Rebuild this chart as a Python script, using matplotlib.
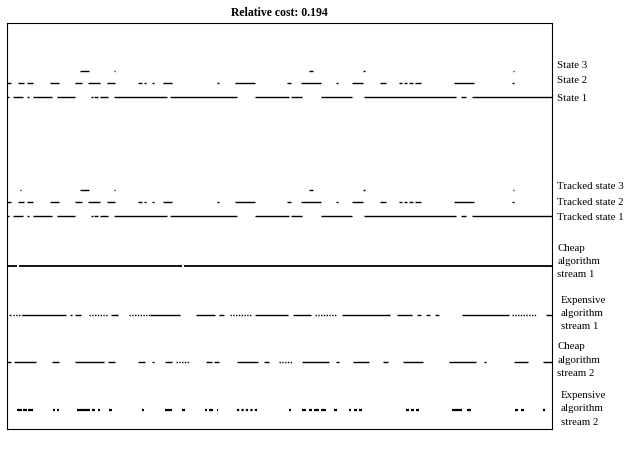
import numpy as np
import matplotlib.pyplot as plt

plt.rcParams['font.family'] = ['Liberation Serif', 'DejaVu Serif']

# runs of (start, stop) time steps
state1 = [(0, 2), (6, 16), (20, 22), (26, 45), (50, 68), (84, 86), (87, 91), (93, 101),
          (107, 160), (163, 230), (248, 283), (285, 296), (315, 346), (358, 450),
          (455, 460), (466, 546)]
state2 = [(0, 4), (11, 17), (20, 26), (43, 52), (68, 75), (81, 93), (100, 108), (131, 135),
          (137, 139), (145, 147), (156, 165), (210, 212), (228, 248), (281, 285), (295, 315),
          (330, 332), (346, 357), (374, 380), (393, 396), (398, 401), (403, 407), (409, 415),
          (448, 468), (506, 508)]
state3 = [(73, 82), (107, 108), (303, 307), (357, 359), (507, 508)]

tracked1 = list(state1)
tracked2 = list(state2)
tracked3 = [(13, 14)] + state3

cheap1 = [(0, 10), (12, 175), (177, 546)]

exp1 = [(2, 4), (15, 59), (63, 65), (68, 74), (104, 111), (143, 173), (189, 208), (212, 217),
        (248, 282), (287, 305), (336, 384), (391, 406), (411, 415), (420, 424), (429, 433),
        (456, 503), (540, 546)]
exp1_dotted = [(6, 15), (82, 101), (122, 143), (223, 244), (309, 330), (506, 531)]

cheap2 = [(0, 4), (7, 29), (45, 52), (68, 97), (101, 108), (131, 138), (145, 147), (158, 165),
          (199, 205), (207, 212), (230, 251), (257, 262), (296, 323), (330, 333), (347, 363),
          (377, 382), (397, 417), (443, 470), (478, 480), (508, 522), (537, 546)]
cheap2_dotted = [(169, 183), (272, 286)]

exp2 = [(10, 15), (16, 20), (21, 26), (46, 48), (50, 52), (70, 83), (85, 88), (91, 93),
        (102, 105), (135, 137), (158, 165), (175, 178), (198, 200), (202, 206), (210, 211),
        (283, 285), (296, 300), (303, 306), (308, 313), (315, 320), (328, 331), (343, 345),
        (348, 351), (353, 356), (400, 403), (405, 408), (410, 413), (446, 456), (461, 465),
        (509, 512), (515, 518), (537, 539)]
exp2_dotted = [(230, 250)]

n_steps = 546
labels = ['State 3', 'State 2', 'State 1',
          'Tracked state 3', 'Tracked state 2', 'Tracked state 1',
          'Cheap\nalgorithm\nstream 1', 'Expensive\nalgorithm\nstream 1',
          'Cheap\nalgorithm\nstream 2', 'Expensive\nalgorithm\nstream 2']

fig = plt.figure(figsize=(6.24, 4.6), dpi=100)
ax = fig.add_axes([7 / 624, 30 / 460, 545 / 624, 406 / 460])

# row heights
rows = {
    'state3': 7.08, 'state2': 6.83, 'state1': 6.54,
    'tracked3': 4.58, 'tracked2': 4.33, 'tracked1': 4.04,
    'cheap1': 3.0, 'exp1': 1.98, 'cheap2': 1.0, 'exp2': 0.0,
}


def draw(runs, y, lw=1.0, ls='-'):
    for a, b in runs:
        ax.plot([a, b], [y, y], color='black', lw=lw, ls=ls, solid_capstyle='butt')


draw(state1, rows['state1'])
draw(state2, rows['state2'])
draw(state3, rows['state3'])
draw(tracked1, rows['tracked1'])
draw(tracked2, rows['tracked2'])
draw(tracked3, rows['tracked3'])
draw(cheap1, rows['cheap1'], lw=1.3)
draw(exp1, rows['exp1'])
draw(exp1_dotted, rows['exp1'], ls=(0, (1, 1)))
draw(cheap2, rows['cheap2'])
draw(cheap2_dotted, rows['cheap2'], ls=(0, (1, 1)))
draw(exp2, rows['exp2'], lw=1.6)
draw(exp2_dotted, rows['exp2'], lw=1.6, ls=(0, (1, 1)))

ax.set_xlim(0, n_steps)
ax.set_ylim(-0.40, 8.077)
ax.set_xticks([])
ax.set_yticks([])

label_y = [7.22, 6.89, 6.53, 4.68, 4.34, 4.03, 3.12, 2.03, 1.06, 0.04]
label_x = [1.01] * 6 + [1.01, 1.016, 1.01, 1.016]
for x, y, s in zip(label_x, label_y, labels):
    ax.text(x, y, s, transform=ax.get_yaxis_transform(), fontsize=7.8,
            ha='left', va='center', linespacing=1.6)

ax.set_title('Relative cost: 0.194', fontsize=8.5, fontweight='bold', pad=6)

fig.savefig('out.png', dpi=100)
